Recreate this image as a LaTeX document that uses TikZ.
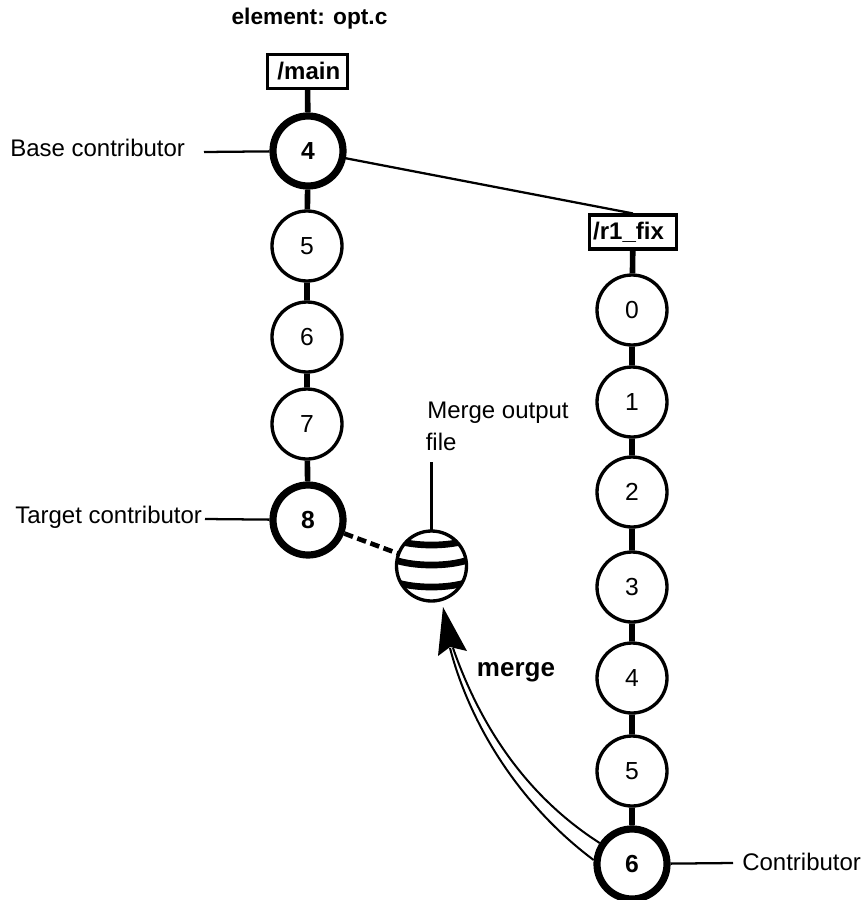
\documentclass[tikz,border=0pt]{standalone}
\usepackage{fontspec}
\setmainfont{Liberation Sans}
\usetikzlibrary{calc}
\tikzset{
 x=0.75pt,y=-0.75pt,
 ver/.style={circle,draw,fill=white,line width=2.5pt,minimum size=52.5pt,inner sep=0pt,font=\fontsize{18.5}{20}\selectfont},
 verb/.style={ver,line width=5.4pt,font=\fontsize{18.5}{20}\selectfont\bfseries},
 branch/.style={draw,fill=white,line width=2.5pt,inner sep=0pt,minimum height=25.3pt,font=\fontsize{18}{20}\selectfont\bfseries},
 lab/.style={font=\fontsize{18}{20}\selectfont,inner sep=0pt},
 stem/.style={line width=4.2pt},
 thin line/.style={line width=1.7pt}
}
\begin{document}
\begin{tikzpicture}
\useasboundingbox (0,0) rectangle (861,900);
\node[lab,font=\fontsize{17}{20}\selectfont\bfseries] (title) at (309.5,19) {element: opt.c};
% main
\node[branch,minimum width=59.8pt] (main) at (307.5,71.5) {\kern 2pt/main};
\node[verb] (m4) at (308,151) {4};
\node[ver] (m5) at (307,246) {5};
\node[ver] (m6) at (307,337) {6};
\node[ver] (m7) at (307,424) {7};
\node[verb] (m8) at (308,520) {8};
% branch
\node[branch,minimum width=65pt] (fix) at (633,232) {/r1\_fix\kern 6.7pt};
\node[ver] (r0) at (632,310) {0};
\node[ver] (r1) at (632,402) {1};
\node[ver] (r2) at (632,492) {2};
\node[ver] (r3) at (632,587) {3};
\node[ver] (r4) at (632,678) {4};
\node[ver] (r5) at (632,771) {5};
\node[verb] (r6) at (632,864) {6};
\draw[stem] (main)--(m4) (m4)--(m5) (m5)--(m6) (m6)--(m7) (m7)--(m8);
\draw[stem] (fix)--(r0) (r0)--(r1) (r1)--(r2) (r2)--(r3) (r3)--(r4) (r4)--(r5) (r5)--(r6);
\draw[thin line] (m4)--(fix.north);
% sphere
\node[circle,minimum size=52pt,inner sep=0pt] (sph) at (431.5,566) {};
\begin{scope}
\clip (431.5,566) circle[radius=35];
\foreach \yy in {545,565,587}{
  \draw[line width=5pt] (395,\yy-5) .. controls (415,\yy+1.7) and (448,\yy+1.7) .. (468,\yy-5);
}
\end{scope}
\draw[line width=2.5pt] (431.5,566) circle[radius=35];
% labels
\node[lab,anchor=west] (base) at (10,148) {Base contributor};
\node[lab,anchor=west] (targ) at (15,517) {Target contributor};
\node[lab,anchor=west] (cont) at (742,862) {Contributor};
\node[lab,anchor=west] (outa) at (427,413) {Merge output};
\node[lab,anchor=west] (outb) at (425.5,442) {file};
\node[lab,font=\fontsize{19.5}{20}\selectfont\bfseries] (mg) at (516,672) {merge};
\coordinate (basee) at (204,152);
\coordinate (targe) at (205,519);
\coordinate (conte) at (733,863);
\coordinate (oute) at (431.5,462);
\draw[thin line] (basee)--(m4);
\draw[thin line] (targe)--(m8);
\draw[thin line] (r6)--(conte);
\draw[line width=2pt] (oute)--(sph.north);
\draw[line width=3.5pt,dash pattern=on 7pt off 3.5pt] (m8)--(sph);
% merge arrow
\coordinate (tip) at (443,607);
\draw[line width=1.5pt] (r6.147) .. controls (525,795) and (480,725) .. (453,648);
\draw[line width=1.5pt] (r6.174) .. controls (520,805) and (470,725) .. (450,648);
\fill (tip)--(467,651)--(450,647)--(438,656)--cycle;
\end{tikzpicture}
\end{document}
